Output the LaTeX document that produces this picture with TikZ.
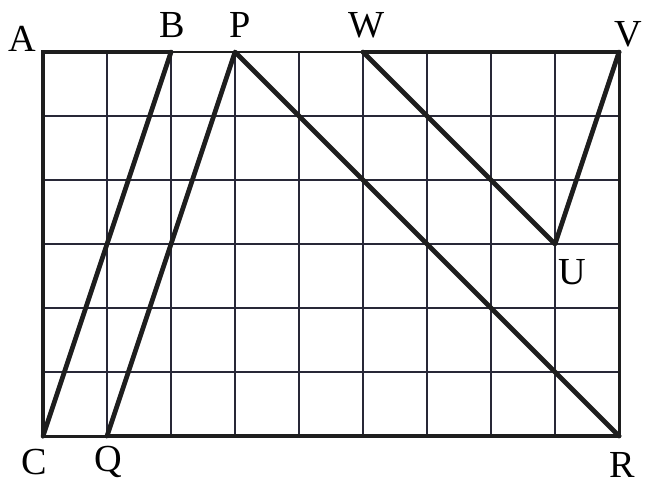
\documentclass[tikz,border=0pt]{standalone}
\usepackage{fontspec}
\setmainfont{Liberation Serif}
\usetikzlibrary{positioning}
\definecolor{gridink}{RGB}{40,40,55}
\definecolor{lineink}{RGB}{30,30,30}
\tikzset{
  gridline/.style ={line width=0.8pt, gridink},
  gborder/.style  ={line width=1.3pt, lineink},
  gthick/.style   ={line width=2.1pt, lineink, line cap=round},
  gseg/.style     ={line width=2.1pt, lineink, line cap=round, line join=round},
  ptlabel/.style  ={inner sep=0pt, font=\fontsize{17}{20}\selectfont},
}

\begin{document}
\begin{tikzpicture}
\useasboundingbox (-0.672,-0.734) rectangle (9.437,6.813);
% grid
\foreach \i in {1,...,8} \draw[gridline] (\i,0) -- (\i,6);
\foreach \j in {1,...,5} \draw[gridline] (0,\j) -- (9,\j);
% corner and edge points
\coordinate (A) at (0,6); \coordinate (B) at (2,6); \coordinate (P) at (3,6);
\coordinate (W) at (5,6); \coordinate (V) at (9,6); \coordinate (U) at (8,3);
\coordinate (C) at (0,0); \coordinate (Q) at (1,0); \coordinate (R) at (9,0);
% frame
\draw[gborder] (B) -- (W);
\draw[gborder] (C) -- (Q);
\draw[gborder] (V) -- (R);
\draw[gthick] (B) -- (A) -- (C);
\draw[gthick] (W) -- (V);
\draw[gthick] (Q) -- (R);
% segments
\draw[gseg] (C) -- (B);
\draw[gseg] (Q) -- (P) -- (R);
\draw[gseg] (W) -- (U) -- (V);
% labels
\node[ptlabel] (lA) at (-0.33,6.2) {A};
\node[ptlabel] (lB) at (2.02,6.42) {B};
\node[ptlabel] (lP) at (3.08,6.42) {P};
\node[ptlabel] (lW) at (5.06,6.42) {W};
\node[ptlabel] (lV) at (9.14,6.27) {V};
\node[ptlabel] (lU) at (8.27,2.56) {U};
\node[ptlabel] (lC) at (-0.13,-0.41) {C};
\node[ptlabel] (lQ) at (1.02,-0.41) {Q};
\node[ptlabel] (lR) at (9.05,-0.45) {R};
\end{tikzpicture}
\end{document}
